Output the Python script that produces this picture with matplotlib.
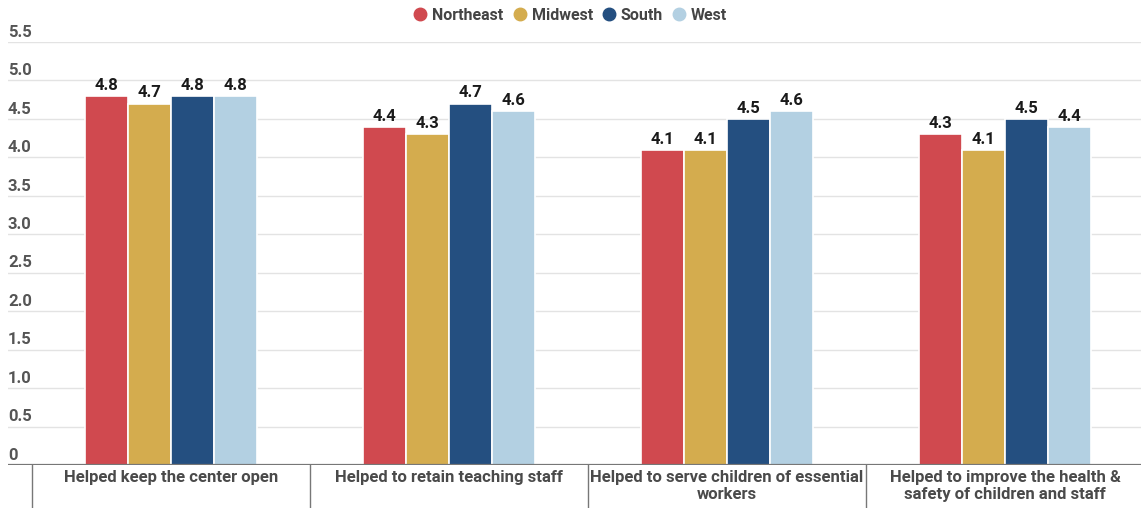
import numpy as np
import matplotlib
matplotlib.use('Agg')
import matplotlib.pyplot as plt
from matplotlib.transforms import blended_transform_factory
from matplotlib.lines import Line2D

plt.rcParams['font.family'] = ['Roboto', 'DejaVu Sans']

categories = [
    'Helped keep the center open',
    'Helped to retain teaching staff',
    'Helped to serve children of essential\nworkers',
    'Helped to improve the health &\nsafety of children and staff',
]
regions = ['Northeast', 'Midwest', 'South', 'West']
northeast = [4.8, 4.4, 4.1, 4.3]
midwest = [4.7, 4.3, 4.1, 4.1]
south = [4.8, 4.7, 4.5, 4.5]
west = [4.8, 4.6, 4.6, 4.4]
yticks = [0, 0.5, 1.0, 1.5, 2.0, 2.5, 3.0, 3.5, 4.0, 4.5, 5.0, 5.5]
ytick_labels = ['0', '0.5', '1.0', '1.5', '2.0', '2.5', '3.0', '3.5', '4.0', '4.5', '5.0', '5.5']

colors = ['#D0494F', '#D4AC4E', '#244F80', '#B3D0E2']
series = [northeast, midwest, south, west]

W, H = 1141, 508
fig = plt.figure(figsize=(W / 100, H / 100), dpi=100)
left_px, right_px, top_px, base_px = 8, 1141, 42, 465
ax = fig.add_axes([left_px / W, (H - base_px) / H,
                   (right_px - left_px) / W, (base_px - top_px) / H])

cat_px = 278.0
x0 = -0.5 - (32 - left_px) / cat_px
ax.set_xlim(x0, x0 + (right_px - left_px) / cat_px)
ax.set_ylim(0, 5.5)

x = np.arange(len(categories))
bw = 0.154
for i, (vals, c) in enumerate(zip(series, colors)):
    pos = x + (i - 1.5) * bw
    ax.bar(pos, vals, width=bw, color=c, edgecolor='white', linewidth=1.2, zorder=3)
    for p, v in zip(pos, vals):
        ax.text(p, v + 0.04, f'{v:.1f}', ha='center', va='bottom',
                fontsize=12, fontweight='bold', color='#1a1a1a', zorder=4)

# gridlines and y labels drawn inside the plot, sitting on each line
for t in yticks[1:]:
    ax.axhline(t, color='#e3e3e3', linewidth=1, zorder=1)
trans_y = blended_transform_factory(ax.transAxes, ax.transData)
for t, lab in zip(yticks, ytick_labels):
    ax.text(0.0, t + 0.03, lab, transform=trans_y, ha='left', va='bottom',
            fontsize=12, fontweight='bold', color='#555555')
ax.axhline(0, color='#777777', linewidth=1.6, zorder=5)

# category separators below the baseline
trans_x = blended_transform_factory(ax.transData, ax.transAxes)
sep_h = (H - base_px) / (base_px - top_px)
for s in np.arange(-0.5, len(categories) - 0.4, 1.0):
    ax.plot([s, s], [0, -sep_h], transform=trans_x, color='#777777',
            linewidth=1, clip_on=False)
for xi, lab in zip(x, categories):
    ax.text(xi, -0.012, lab, transform=trans_x, ha='center', va='top',
            fontsize=12, fontweight='bold', color='#4a4a4a',
            linespacing=1.2)

ax.set_xticks([])
ax.set_yticks([])
for sp in ax.spines.values():
    sp.set_visible(False)

handles = [Line2D([], [], marker='o', linestyle='', markersize=9,
                  markerfacecolor=c, markeredgecolor=c) for c in colors]
fig.legend(handles, regions, loc='center', bbox_to_anchor=(0.5, 1 - 15 / H),
           ncol=4, frameon=False, handlelength=0.8, handletextpad=0.35,
           columnspacing=0.6, prop={'size': 11.5, 'weight': 'bold'},
           labelcolor='#444444')

fig.savefig('out.png', dpi=100)
